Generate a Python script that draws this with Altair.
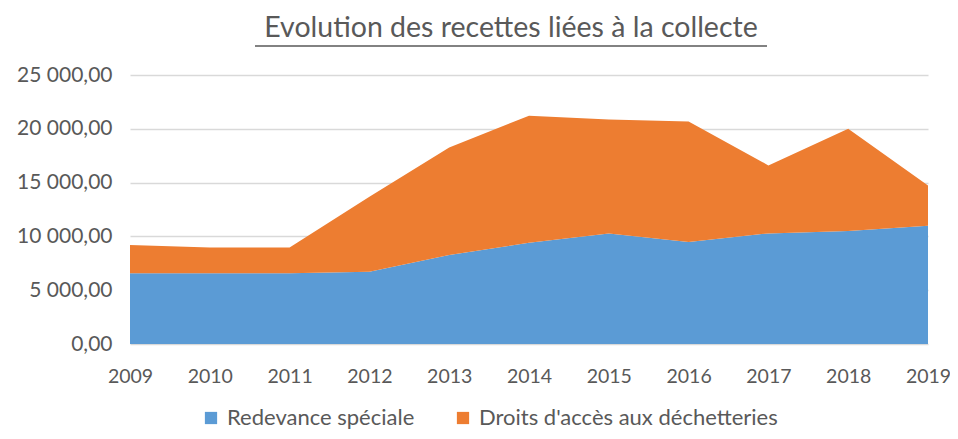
import altair as alt
import pandas as pd

years = [2009, 2010, 2011, 2012, 2013, 2014, 2015, 2016, 2017, 2018, 2019]
redevance = [6570, 6570, 6570, 6720, 8270, 9410, 10280, 9480, 10280, 10500, 10990]
droits = [2630, 2410, 2410, 6970, 10000, 11800, 10590, 11210, 6320, 9500, 3750]
series = ["Redevance spéciale", "Droits d'accès aux déchetteries"]
colors = ["#5B9BD5", "#ED7D31"]
title_text = "Evolution des recettes liées à la collecte"
font = "Lato"
gray = "#595959"

rows = []
for i, y in enumerate(years):
    rows.append({"year": y, "serie": series[0], "value": redevance[i], "ord": 0})
    rows.append({"year": y, "serie": series[1], "value": droits[i], "ord": 1})
df = pd.DataFrame(rows)

W, H = 798, 269

area = alt.Chart(df).mark_area().encode(
    x=alt.X("year:Q", scale=alt.Scale(domain=[2009, 2019], nice=False, zero=False),
            axis=alt.Axis(values=years, format="d", title=None, grid=False, ticks=False,
                          domain=False, labelFontSize=19.5, labelColor=gray, labelFont=font,
                          labelPadding=23, labelFlush=False)),
    y=alt.Y("value:Q", stack="zero",
            scale=alt.Scale(domain=[0, 25000]),
            axis=alt.Axis(values=[0, 5000, 10000, 15000, 20000, 25000], title=None,
                          ticks=False, domain=False, gridColor="#d9d9d9", gridWidth=1.3,
                          labelFontSize=21, labelColor=gray, labelFont=font, labelPadding=18,
                          labelExpr="replace(replace(format(datum.value, ',.2f'), ',', ' '), '.', ',')")),
    color=alt.Color("serie:N", scale=alt.Scale(domain=series, range=colors),
                    legend=alt.Legend(title=None, orient="none", direction="horizontal",
                                      legendX=70, legendY=332, symbolType="square",
                                      symbolSize=150, symbolStrokeWidth=0, symbolOpacity=1,
                                      labelFontSize=22, labelColor=gray, labelFont=font,
                                      labelLimit=0, columnPadding=37, labelOffset=5)),
    order=alt.Order("ord:Q"),
)

underline = alt.Chart(pd.DataFrame({"a": [0]})).mark_rule(color=gray, strokeWidth=1.5).encode(
    x=alt.value(125), x2=alt.value(637), y=alt.value(-29)
)

chart = alt.layer(area, underline).properties(
    width=W, height=H,
    title=alt.TitleParams(title_text, fontSize=28.5, font=font, fontWeight="normal",
                          color=gray, anchor="middle", offset=3, dx=-18),
    autosize=alt.AutoSizeParams(type="none"),
    padding={"left": 122, "top": 67, "right": 22, "bottom": 87},
).configure_view(stroke=None)

chart.save("out.html", embed_options={"renderer": "svg", "actions": False})
